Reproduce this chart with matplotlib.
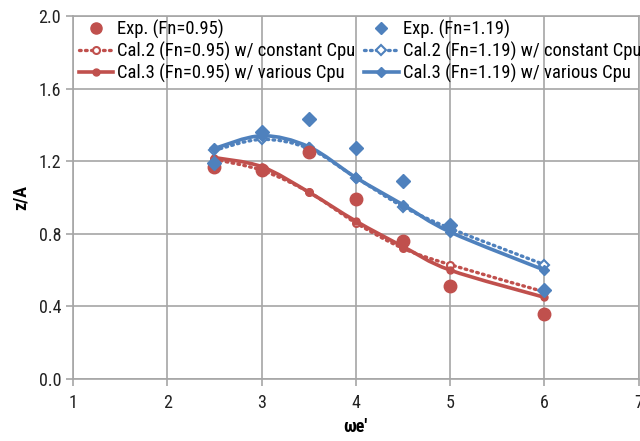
import matplotlib
matplotlib.use("Agg")
import matplotlib.pyplot as plt
from matplotlib.path import Path
from matplotlib.patches import PathPatch
from matplotlib.lines import Line2D
from matplotlib import font_manager
import numpy as np

names = {f.name for f in font_manager.fontManager.ttflist}
fam = [n for n in ['Liberation Sans Narrow', 'Roboto Condensed', 'Lato'] if n in names]
plt.rcParams['font.family'] = fam + ['DejaVu Sans']

we = [2.5, 3.0, 3.5, 4.0, 4.5, 5.0, 6.0]
exp_095 = [1.17, 1.15, 1.25, 0.99, 0.76, 0.51, 0.36]
exp_119 = [1.19, 1.36, 1.43, 1.27, 1.09, 0.85, 0.49]
cal2_095 = [1.21, 1.15, 1.03, 0.86, 0.72, 0.63, 0.48]
cal3_095 = [1.22, 1.17, 1.03, 0.87, 0.73, 0.60, 0.45]
cal2_119 = [1.26, 1.32, 1.27, 1.11, 0.95, 0.83, 0.63]
cal3_119 = [1.27, 1.34, 1.28, 1.11, 0.96, 0.81, 0.60]

RED = '#C0504D'
BLUE = '#4F81BD'
GRID = '#A6A6A6'

fig = plt.figure(figsize=(6.4, 4.41), dpi=100)
ax = fig.add_axes([0.114, 0.1406, 0.884, 0.8231])


def smooth_path(xs, ys):
    """Excel-style smoothed line as cubic Bezier path through the points."""
    pts = np.column_stack([xs, ys])
    n = len(pts)
    verts = [pts[0]]
    codes = [Path.MOVETO]
    for i in range(n - 1):
        p0 = pts[i - 1] if i > 0 else pts[i]
        p1 = pts[i]
        p2 = pts[i + 1]
        p3 = pts[i + 2] if i + 2 < n else pts[i + 1]
        c1 = p1 + (p2 - p0) / 6.0
        c2 = p2 - (p3 - p1) / 6.0
        verts += [c1, c2, p2]
        codes += [Path.CURVE4] * 3
    return Path(verts, codes)


DOT = (0, (0.5, 1.3))


def add_curve(xs, ys, color, ls):
    patch = PathPatch(smooth_path(xs, ys), facecolor='none', edgecolor=color,
                      lw=2.6 if ls == '-' else 2.4, zorder=3, capstyle='round')
    if ls == ':':
        patch.set_linestyle(DOT)
        patch.set_capstyle('round')
    ax.add_patch(patch)


add_curve(we, cal2_095, RED, ':')
add_curve(we, cal3_095, RED, '-')
add_curve(we, cal2_119, BLUE, ':')
add_curve(we, cal3_119, BLUE, '-')

ax.plot(we, cal2_095, ls='none', marker='o', ms=5, mfc='white', mec=RED, mew=1.5, zorder=4)
ax.plot(we, cal3_095, ls='none', marker='o', ms=5, mfc=RED, mec=RED, zorder=4)
ax.plot(we, cal2_119, ls='none', marker='D', ms=5, mfc='white', mec=BLUE, mew=1.5, zorder=4)
ax.plot(we, cal3_119, ls='none', marker='D', ms=5, mfc=BLUE, mec=BLUE, zorder=4)

ax.plot(we, exp_095, ls='none', marker='o', ms=9, color=RED, zorder=5)
ax.plot(we, exp_119, ls='none', marker='D', ms=7.5, color=BLUE, zorder=5)

ax.set_xlim(1, 7)
ax.set_ylim(0, 2.0)
ax.set_xticks(np.arange(1, 8, 1))
ax.set_yticks(np.arange(0, 2.01, 0.4))
ax.set_yticklabels([f'{v:.1f}' for v in np.arange(0, 2.01, 0.4)])
ax.grid(True, color=GRID, lw=1.2)
ax.set_axisbelow(True)
for s in ax.spines.values():
    s.set_color(GRID)
    s.set_linewidth(1.2)
ax.tick_params(axis='both', colors=GRID, labelcolor='#222222', labelsize=13,
               length=5, width=1.2)
ax.tick_params(axis='x', pad=6)

ax.set_xlabel("ωe'", fontsize=13, fontweight='bold', labelpad=4)
ax.set_ylabel('z/A', fontsize=13, fontweight='bold', labelpad=6)

handles = [
    Line2D([], [], ls='none', marker='o', ms=8, color=RED),
    Line2D([], [], color=RED, lw=2.4, ls=DOT, marker='o', ms=5, mfc='white', mec=RED, mew=1.5, dash_capstyle='round'),
    Line2D([], [], color=RED, lw=2.6, marker='o', ms=5),
    Line2D([], [], ls='none', marker='D', ms=6.5, color=BLUE),
    Line2D([], [], color=BLUE, lw=2.4, ls=DOT, marker='D', ms=5, mfc='white', mec=BLUE, mew=1.5, dash_capstyle='round'),
    Line2D([], [], color=BLUE, lw=2.6, marker='D', ms=5),
]
labels = ['Exp. (Fn=0.95)', 'Cal.2 (Fn=0.95) w/ constant Cpu', 'Cal.3 (Fn=0.95) w/ various Cpu',
          'Exp. (Fn=1.19)', 'Cal.2 (Fn=1.19) w/ constant Cpu', 'Cal.3 (Fn=1.19) w/ various Cpu']
ax.legend(handles, labels, ncol=2, loc='upper left', bbox_to_anchor=(0.0106, 0.99),
          frameon=False, fontsize=13.4, handlelength=1.85, handletextpad=0.22,
          columnspacing=0.45, labelspacing=0.16, borderaxespad=0, borderpad=0)

fig.savefig('out.png', dpi=100)
